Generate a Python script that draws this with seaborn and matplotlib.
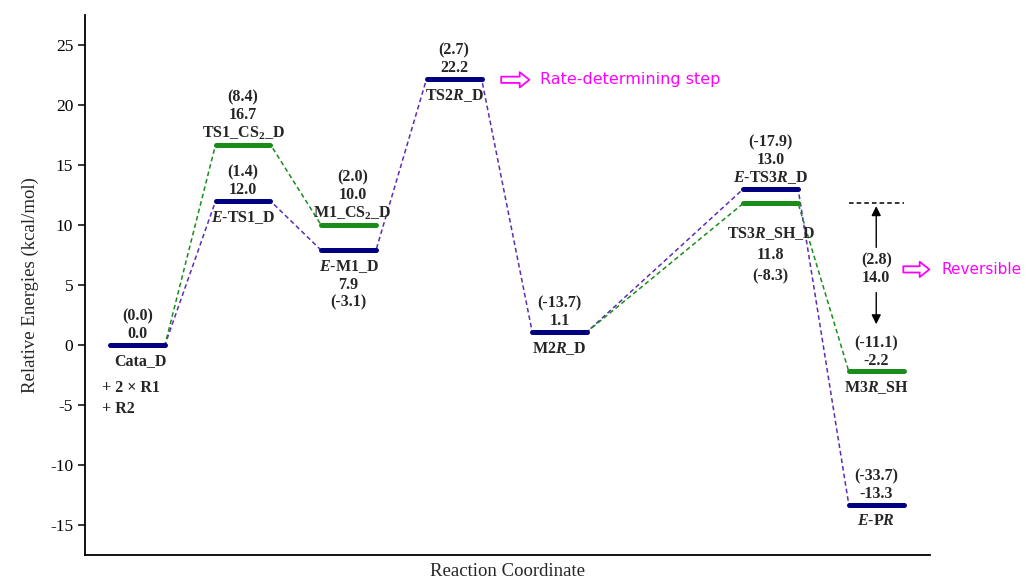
import numpy as np
import pandas as pd
import seaborn as sns
import matplotlib.pyplot as plt

# energy levels (kcal/mol), slot position on the reaction coordinate
navy_pos = [0, 1, 2, 3, 4, 6, 7]
navy_E = [0.0, 12.0, 7.9, 22.2, 1.1, 13.0, -13.3]
navy_G = [0.0, 1.4, -3.1, 2.7, -13.7, -17.9, -33.7]
navy_names = ["Cata_D", r"$\mathit{E}$-TS1_D", r"$\mathit{E}$-M1_D", r"TS2$\mathit{R}$_D",
              r"M2$\mathit{R}$_D", r"$\mathit{E}$-TS3$\mathit{R}$_D", r"$\mathit{E}$-P$\mathit{R}$"]

green_pos = [1, 2, 6, 7]
green_E = [16.7, 10.0, 11.8, -2.2]
green_G = [8.4, 2.0, -8.3, -11.1]
green_names = [r"TS1_CS$_2$_D", r"M1_CS$_2$_D", r"TS3$\mathit{R}$_SH_D", r"M3$\mathit{R}$_SH"]

# reversible step values
rev_G = 2.8
rev_E = 14.0

# which levels are joined by dashed lines
purple_path = [("n", i) for i in range(7)]
green_path1 = [("n", 0), ("g", 0), ("g", 1)]
green_path2 = [("n", 4), ("g", 2), ("g", 3)]

yticks = [-15, -10, -5, 0, 5, 10, 15, 20, 25]

W = 0.52
NAVY = "#000080"
GREEN = "#1a8c1a"
PURPLE = "#5a2db5"
MAG = "#ff00ff"
FS = 11.5
LS = 1.12

sns.set_style("ticks")
plt.rcParams["font.family"] = ["Liberation Serif", "DejaVu Serif"]
plt.rcParams["mathtext.fontset"] = "custom"
plt.rcParams["mathtext.rm"] = "Liberation Serif:bold"
plt.rcParams["mathtext.it"] = "Liberation Serif:bold:italic"
plt.rcParams["axes.unicode_minus"] = False

fig = plt.figure(figsize=(10.27, 5.88), dpi=100)
ax = fig.add_axes([0.0828, 0.0561, 0.8228, 0.9184])


def level(kind, i):
    if kind == "n":
        return navy_pos[i], navy_E[i]
    return green_pos[i], green_E[i]


def path_df(path):
    xs, ys = [], []
    for kind, i in path:
        p, e = level(kind, i)
        xs += [p, p + W]
        ys += [e, e]
    return pd.DataFrame({"x": xs, "E": ys})


for path, col in [(purple_path, PURPLE), (green_path1, GREEN), (green_path2, GREEN)]:
    sns.lineplot(data=path_df(path), x="x", y="E", sort=False, estimator=None,
                 color=col, lw=1.1, linestyle=(0, (3, 2)), ax=ax)

ax.hlines(green_E, green_pos, np.array(green_pos) + W, colors=GREEN, lw=3.6,
          capstyle="round", zorder=3)
ax.hlines(navy_E, navy_pos, np.array(navy_pos) + W, colors=NAVY, lw=3.6,
          capstyle="round", zorder=3)

lab = dict(fontsize=FS, fontweight="bold", ha="center", textcoords="offset points")


def above(p, e, s, dx=0, ls=LS):
    ax.annotate(s, (p + W / 2, e), xytext=(dx, 2), va="bottom", linespacing=ls, **lab)


def below(p, e, s, dx=0, dy=-6, ls=LS):
    ax.annotate(s, (p + W / 2, e), xytext=(dx, dy), va="top", linespacing=ls, **lab)


f = lambda v: f"{v:.1f}"
g = lambda v: f"({v:.1f})"

# navy levels
above(navy_pos[0], navy_E[0], g(navy_G[0]) + "\n" + f(navy_E[0]))
below(navy_pos[0], navy_E[0], navy_names[0], dx=2)
ax.annotate("+ 2 × R1\n+ R2", (navy_pos[0], navy_E[0]), xytext=(-6, -25),
            textcoords="offset points", ha="left", va="top", fontsize=FS,
            fontweight="bold", linespacing=1.4)
above(navy_pos[1], navy_E[1], g(navy_G[1]) + "\n" + f(navy_E[1]))
below(navy_pos[1], navy_E[1], navy_names[1])
below(navy_pos[2], navy_E[2], navy_names[2] + "\n" + f(navy_E[2]) + "\n" + g(navy_G[2]))
above(navy_pos[3], navy_E[3], g(navy_G[3]) + "\n" + f(navy_E[3]))
below(navy_pos[3], navy_E[3], navy_names[3])
above(navy_pos[4], navy_E[4], g(navy_G[4]) + "\n" + f(navy_E[4]))
below(navy_pos[4], navy_E[4], navy_names[4])
above(navy_pos[5], navy_E[5], g(navy_G[5]) + "\n" + f(navy_E[5]) + "\n" + navy_names[5])
above(navy_pos[6], navy_E[6], g(navy_G[6]) + "\n" + f(navy_E[6]))
below(navy_pos[6], navy_E[6], navy_names[6])

# green levels
above(green_pos[0], green_E[0], g(green_G[0]) + "\n" + f(green_E[0]) + "\n" + green_names[0])
above(green_pos[1], green_E[1], g(green_G[1]) + "\n" + f(green_E[1]) + "\n" + green_names[1], dx=3)
below(green_pos[2], green_E[2], green_names[2] + "\n" + f(green_E[2]) + "\n" + g(green_G[2]),
      dy=-16, ls=1.4)
above(green_pos[3], green_E[3], g(green_G[3]) + "\n" + f(green_E[3]))
below(green_pos[3], green_E[3], green_names[3])

# reversible step: TS3R_SH_D -> M3R_SH
xc = green_pos[3] + W / 2
ax.hlines(green_E[2], green_pos[3], green_pos[3] + W, colors="black", lw=1.1,
          linestyle=(0, (3, 2)))
mid = (green_E[2] + green_E[3]) / 2 + 1.5
ax.annotate("", xy=(xc, green_E[2]), xytext=(xc, mid + 1.6),
            arrowprops=dict(arrowstyle="-|>", color="black", lw=1, mutation_scale=14))
ax.annotate("", xy=(xc, green_E[3] + 3.7), xytext=(xc, mid - 1.7),
            arrowprops=dict(arrowstyle="-|>", color="black", lw=1, mutation_scale=14))
ax.text(xc, mid, g(rev_G) + "\n" + f(rev_E), ha="center", va="center", fontsize=FS,
        fontweight="bold", linespacing=LS)

# hollow call-out arrows
hollow = dict(arrowstyle="simple,head_length=0.7,head_width=1.1,tail_width=0.45",
              fc="white", ec=MAG, lw=1.3)
ax.annotate("", xy=(navy_pos[3] + 1.0, navy_E[3] - 0.1), xytext=(navy_pos[3] + 0.68, navy_E[3] - 0.1),
            arrowprops=hollow)
ax.text(navy_pos[3] + 1.07, navy_E[3] - 0.1, "Rate-determining step", color=MAG,
        fontsize=11.5, fontfamily="DejaVu Sans", va="center", ha="left")
ax.annotate("", xy=(7.79, mid), xytext=(7.49, mid), arrowprops=hollow, annotation_clip=False)
ax.text(7.88, mid, "Reversible", color=MAG, fontsize=11, fontfamily="DejaVu Sans",
        va="center", ha="left", clip_on=False)

ax.set_xlim(-0.237, 7.77)
ax.set_ylim(-17.5, 27.5)
ax.set_yticks(yticks)
ax.set_yticklabels([str(t) for t in yticks], fontsize=12.5)
ax.set_xticks([])
ax.set_xlabel("Reaction Coordinate", fontsize=13.5, labelpad=6)
ax.set_ylabel("Relative Energies (kcal/mol)", fontsize=13.5, labelpad=8)
sns.despine(ax=ax)
for s in ["left", "bottom"]:
    ax.spines[s].set_linewidth(1.3)
    ax.spines[s].set_color("black")
ax.tick_params(axis="y", length=5, width=1.1, colors="black")

fig.savefig("out.png", dpi=100)
